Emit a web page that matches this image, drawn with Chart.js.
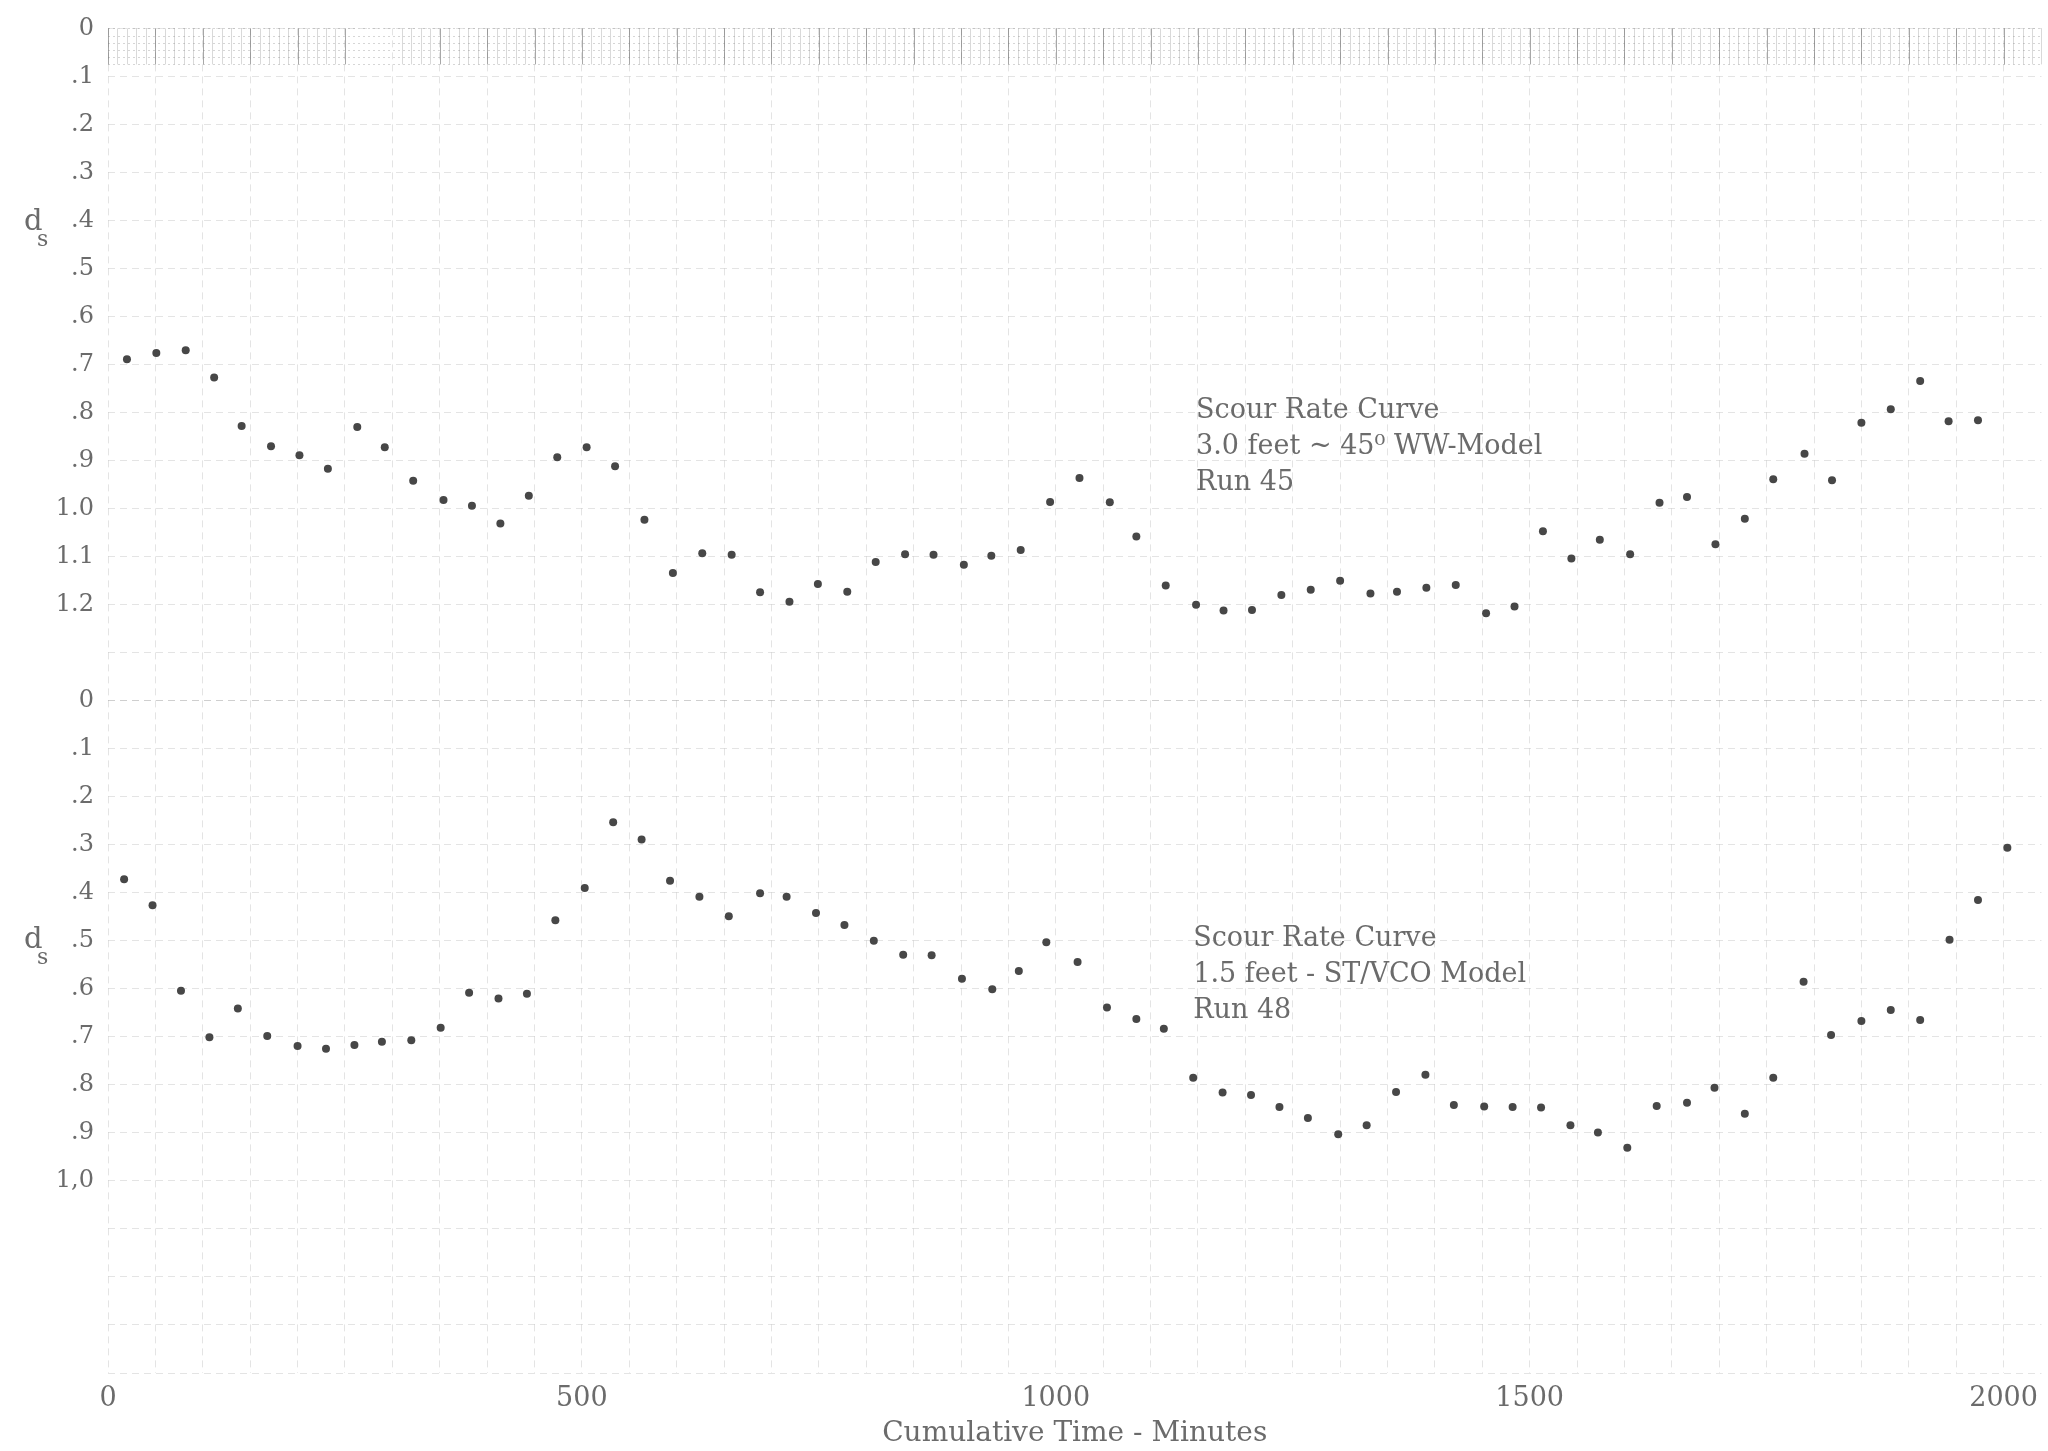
<!DOCTYPE html>
<html>
<head>
<meta charset="utf-8">
<title>Scour Rate Curves – Runs 45 and 48</title>
<script src="https://cdn.jsdelivr.net/npm/chart.js@4.4.1/dist/chart.umd.min.js"></script>
<style>
  html, body { margin: 0; padding: 0; background: #ffffff; }
  canvas { display: block; }
</style>
</head>
<body>
<canvas id="scour" width="2048" height="1451"></canvas>
<script>
// ---- Run 45: 3.0 ft, 45° WW model (upper panel) ----
const run45Minutes = [20, 51, 82, 112, 141, 172, 202, 232, 263, 292, 322, 354, 384, 414, 444,
  474, 505, 535, 566, 596, 627, 658, 688, 719, 749, 780, 810, 841, 871, 903,
  932, 963, 994, 1025, 1057, 1085, 1116, 1148, 1177, 1207, 1238, 1269, 1300, 1332, 1360,
  1391, 1422, 1454, 1484, 1514, 1544, 1574, 1606, 1637, 1666, 1696, 1727, 1757, 1790, 1819,
  1850, 1881, 1912, 1942, 1973];
const run45Depth = [0.689, 0.676, 0.670, 0.727, 0.828, 0.870, 0.889, 0.917, 0.830, 0.872,
  0.942, 0.982, 0.994, 1.031, 0.973, 0.893, 0.872, 0.912, 1.023, 1.134,
  1.093, 1.096, 1.174, 1.194, 1.157, 1.173, 1.111, 1.095, 1.096, 1.117,
  1.098, 1.086, 0.986, 0.936, 0.987, 1.058, 1.160, 1.200, 1.212, 1.211,
  1.180, 1.169, 1.150, 1.177, 1.173, 1.165, 1.159, 1.218, 1.204, 1.047,
  1.104, 1.065, 1.095, 0.988, 0.976, 1.074, 1.021, 0.939, 0.886, 0.941,
  0.821, 0.793, 0.734, 0.818, 0.816];

// ---- Run 48: 1.5 ft, ST/VCO model (lower panel) ----
const run48Minutes = [17, 47, 77, 107, 137, 168, 200, 230, 260, 289, 320, 351, 381, 412, 442,
  472, 503, 533, 563, 593, 624, 655, 688, 716, 747, 777, 808, 839, 869, 901,
  933, 961, 990, 1023, 1054, 1085, 1114, 1145, 1176, 1206, 1236, 1266, 1298, 1328, 1359,
  1390, 1420, 1452, 1482, 1512, 1543, 1572, 1603, 1634, 1666, 1695, 1727, 1757, 1789, 1818,
  1850, 1881, 1912, 1943, 1973, 2004];
const run48Depth = [0.372, 0.426, 0.604, 0.701, 0.641, 0.698, 0.719, 0.725, 0.717, 0.710,
  0.707, 0.681, 0.608, 0.620, 0.610, 0.457, 0.390, 0.253, 0.289, 0.375,
  0.408, 0.449, 0.401, 0.408, 0.442, 0.467, 0.500, 0.529, 0.530, 0.579,
  0.601, 0.563, 0.503, 0.544, 0.639, 0.663, 0.683, 0.785, 0.816, 0.821,
  0.846, 0.869, 0.903, 0.884, 0.815, 0.779, 0.842, 0.845, 0.846, 0.847,
  0.884, 0.899, 0.931, 0.844, 0.837, 0.806, 0.860, 0.785, 0.585, 0.696,
  0.667, 0.644, 0.665, 0.498, 0.415, 0.306];

// ---- tick labels ----
const minuteLabels = [0, 500, 1000, 1500, 2000];
const upperDepthLabels = ['0', '.1', '.2', '.3', '.4', '.5', '.6', '.7', '.8', '.9', '1.0', '1.1', '1.2'];
const lowerDepthLabels = ['0', '.1', '.2', '.3', '.4', '.5', '.6', '.7', '.8', '.9', '1,0'];

// ---- panel captions ----
const upperCaption = ['Scour Rate Curve', '3.0 feet ~ 45\u2070 WW-Model', 'Run 45'];
const lowerCaption = ['Scour Rate Curve', '1.5 feet - ST/VCO Model', 'Run 48'];

const SERIF = '"DejaVu Serif", "Liberation Serif", serif';
const INK = '#6b6b6b';
const DOT = '#474747';
const GRID = 'rgba(120,120,120,0.2)';

const toPoints = (xs, ys) => xs.map((x, i) => ({ x: x, y: ys[i] }));

// Captions, the d_s axis symbol and the dense ruled strip along the top edge
const paperNotes = {
  id: 'paperNotes',
  beforeDatasetsDraw(chart) {
    const { ctx, chartArea, scales } = chart;
    const x = scales.x, yt = scales.yTop;
    const stripTop = yt.getPixelForValue(0);
    const stripBottom = yt.getPixelForValue(0.075);
    ctx.save();
    ctx.lineWidth = 1;
    for (let m = 0; m <= x.max; m += 10) {
      if (m > 250 && m < 305) continue;
      const px = Math.round(x.getPixelForValue(m)) + 0.5;
      ctx.strokeStyle = m % 50 === 0 ? 'rgba(80,80,80,0.5)' : 'rgba(120,120,120,0.28)';
      ctx.beginPath();
      ctx.moveTo(px, stripTop);
      ctx.lineTo(px, stripBottom);
      ctx.stroke();
    }
    ctx.setLineDash([2, 3]);
    ctx.strokeStyle = 'rgba(120,120,120,0.3)';
    for (let v = 0; v <= 0.0751; v += 0.015) {
      const py = Math.round(yt.getPixelForValue(v)) + 0.5;
      ctx.beginPath();
      ctx.moveTo(chartArea.left, py);
      ctx.lineTo(chartArea.right, py);
      ctx.stroke();
    }
    ctx.restore();
  },
  afterDatasetsDraw(chart) {
    const { ctx, scales } = chart;
    const x = scales.x, yt = scales.yTop, yb = scales.yBottom;
    ctx.save();
    ctx.fillStyle = INK;
    ctx.textBaseline = 'middle';
    ctx.textAlign = 'left';
    ctx.font = '27px ' + SERIF;
    const writeCaption = (lines, minute, depth, scale) => {
      const px = x.getPixelForValue(minute);
      const py = scale.getPixelForValue(depth);
      lines.forEach((t, i) => ctx.fillText(t, px, py + i * 36));
    };
    writeCaption(upperCaption, 1148, 0.797, yt);
    writeCaption(lowerCaption, 1145, 0.496, yb);

    const writeSymbol = (scale, depth) => {
      const py = scale.getPixelForValue(depth);
      ctx.font = '29px ' + SERIF;
      ctx.fillText('d', 24, py);
      ctx.font = '22px ' + SERIF;
      ctx.fillText('s', 37, py + 17);
    };
    writeSymbol(yt, 0.405);
    writeSymbol(yb, 0.5);
    ctx.restore();
  }
};

const depthAxis = (labels, weight) => ({
  type: 'linear',
  position: 'left',
  stack: 'depth',
  stackWeight: 1,
  weight: weight,
  reverse: true,
  min: 0,
  max: 1.4,
  afterFit(scale) { scale.width = 100; },
  grid: { color: GRID, lineWidth: 1, drawTicks: false },
  border: { display: false, dash: [7, 5] },
  ticks: {
    stepSize: 0.1,
    autoSkip: false,
    padding: 14,
    color: INK,
    font: { family: SERIF, size: 24 },
    callback: (v) => labels[Math.round(v * 10)] ?? ''
  }
});

new Chart(document.getElementById('scour'), {
  type: 'scatter',
  data: {
    datasets: [
      {
        label: 'Run 45',
        data: toPoints(run45Minutes, run45Depth),
        xAxisID: 'x',
        yAxisID: 'yTop',
        pointRadius: 4,
        pointBackgroundColor: DOT,
        pointBorderWidth: 0,
        showLine: false
      },
      {
        label: 'Run 48',
        data: toPoints(run48Minutes, run48Depth),
        xAxisID: 'x',
        yAxisID: 'yBottom',
        pointRadius: 4,
        pointBackgroundColor: DOT,
        pointBorderWidth: 0,
        showLine: false
      }
    ]
  },
  options: {
    responsive: false,
    devicePixelRatio: 1,
    animation: false,
    layout: { padding: { left: 8, right: 4, top: 25, bottom: 0 } },
    plugins: {
      legend: { display: false },
      tooltip: { enabled: false }
    },
    scales: {
      x: {
        type: 'linear',
        position: 'bottom',
        min: 0,
        max: 2040,
        afterFit(scale) { scale.height = 78; },
        grid: { color: GRID, lineWidth: 1, drawTicks: false },
        border: { display: false, dash: [7, 5] },
        ticks: {
          stepSize: 50,
          includeBounds: false,
          autoSkip: false,
          maxRotation: 0,
          minRotation: 0,
          padding: 10,
          color: INK,
          font: { family: SERIF, size: 27 },
          callback: (v) => minuteLabels.includes(v) ? String(v) : ''
        },
        title: {
          display: true,
          text: 'Cumulative Time - Minutes',
          color: INK,
          font: { family: SERIF, size: 28 },
          padding: { top: 0, bottom: 0 }
        }
      },
      yTop: depthAxis(upperDepthLabels, 2),
      yBottom: depthAxis(lowerDepthLabels, 1)
    }
  },
  plugins: [paperNotes]
});
</script>
</body>
</html>
